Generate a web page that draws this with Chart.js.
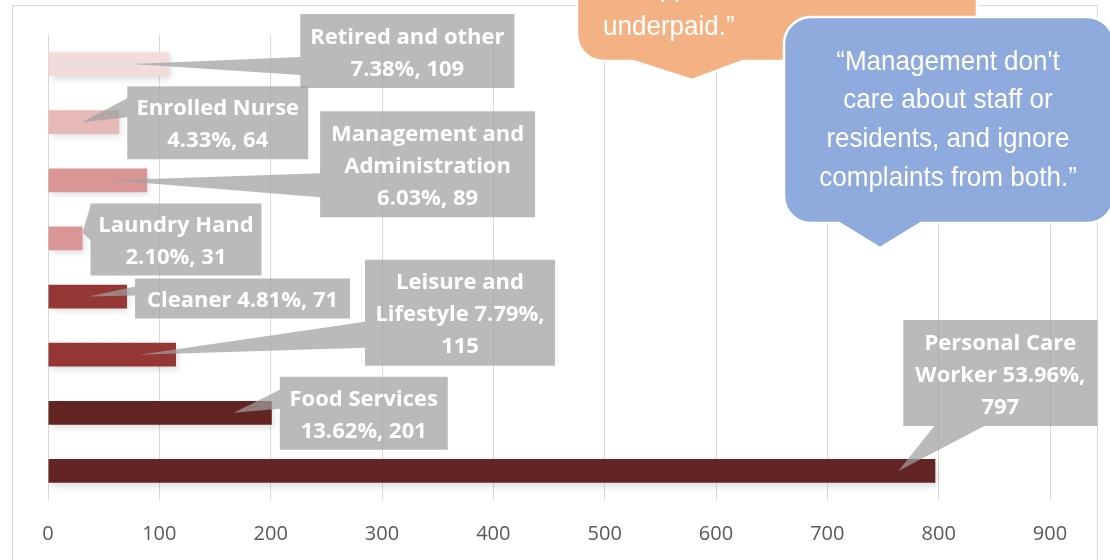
<!DOCTYPE html>
<html>
<head>
<meta charset="utf-8">
<title>Staff roles</title>
<script src="https://cdn.jsdelivr.net/npm/chart.js@4.4.1/dist/chart.umd.min.js"></script>
<style>
    html, body { margin: 0; padding: 0; background: #ffffff; }
    #wrap { width: 1110px; height: 560px; }
</style>
</head>
<body>
<div id="wrap"><canvas id="roleChart" width="1110" height="560"></canvas></div>
<script>
// Data (top bar first)
const roles = ["Retired and other", "Enrolled Nurse", "Management and Administration", "Laundry Hand",
    "Cleaner", "Leisure and Lifestyle", "Food Services", "Personal Care Worker"];
const counts = [109, 64, 89, 31, 71, 115, 201, 797];
const percents = ["7.38", "4.33", "6.03", "2.10", "4.81", "7.79", "13.62", "53.96"];
const barColors = ["#f2dcdb", "#e6b9b8", "#d99694", "#d99694", "#953735", "#953735", "#632523", "#632523"];
const xTicks = [0, 100, 200, 300, 400, 500, 600, 700, 800, 900];

// words per line in each data label
const labelWrap = [[3, 2], [2, 2], [2, 1, 2], [2, 2], [3], [2, 2, 1], [2, 2], [2, 2, 1]];

// callout layout, relative to the end of each bar
const calloutLayout = [
    { dx: 131, dy: -50, w: 214, h: 74, side: "left", b1: 43, b2: 61, tdx: -37, tdy: 0 },
    { dx: 8, dy: -36, w: 181, h: 73, side: "left", b1: 12, b2: 31, tdx: -37, tdy: 0 },
    { dx: 173, dy: -69, w: 215, h: 106, side: "left", b1: 62, b2: 86, tdx: -36, tdy: 0 },
    { dx: 8, dy: -35, w: 171, h: 72, side: "left", b1: 2, b2: 37, tdx: 0, tdy: -6 },
    { dx: 8, dy: -18, w: 215, h: 40, side: "left", b1: 8, b2: 17, tdx: -38, tdy: 0 },
    { dx: 189, dy: -95, w: 190, h: 106, side: "left", b1: 62, b2: 88, tdx: -37, tdy: 0 },
    { dx: 8, dy: -36, w: 168, h: 73, side: "left", b1: 13, b2: 32, tdx: -38, tdy: 0 },
    { dx: -32, dy: -151, w: 194, h: 106, side: "bottom", b1: 31, b2: 81, tdx: -37, tdy: 0 }
];

// quote bubbles
const quotes = [
    { fill: "#f4b183", x: 577, y: -60, w: 400, h: 121, tail: [633, 743, 692, 80],
      align: "left", tx: 603, lines: ["unsupported and", "underpaid.\u201d"], base: -4 },
    { fill: "#8faadc", x: 784, y: 17, w: 330, h: 206, tail: [839, 921, 880, 248],
      align: "center", tx: 948, lines: ["\u201cManagement don't", "care about staff or",
        "residents, and ignore", "complaints from both.\u201d"], base: 69.5 }
];

function labelLines(i) {
    const words = `${roles[i]} ${percents[i]}%, ${counts[i]}`.split(" ");
    const out = [];
    let k = 0;
    labelWrap[i].forEach(n => {
        out.push(words.slice(k, k + n).join(" "));
        k += n;
    });
    return out;
}

function roundRectPath(ctx, x, y, w, h, r, tail) {
    ctx.beginPath();
    ctx.moveTo(x + r, y);
    ctx.lineTo(x + w - r, y);
    ctx.arcTo(x + w, y, x + w, y + r, r);
    ctx.lineTo(x + w, y + h - r);
    ctx.arcTo(x + w, y + h, x + w - r, y + h, r);
    ctx.lineTo(tail[1], y + h);
    ctx.lineTo(tail[2], tail[3]);
    ctx.lineTo(tail[0], y + h);
    ctx.lineTo(x + r, y + h);
    ctx.arcTo(x, y + h, x, y + h - r, r);
    ctx.lineTo(x, y + r);
    ctx.arcTo(x, y, x + r, y, r);
    ctx.closePath();
}

// chart frame behind everything
const framePlugin = {
    id: "frame",
    beforeDraw(chart) {
        const ctx = chart.ctx;
        ctx.save();
        ctx.fillStyle = "#ffffff";
        ctx.fillRect(0, 0, chart.width, chart.height);
        ctx.strokeStyle = "#d9d9d9";
        ctx.lineWidth = 1;
        ctx.strokeRect(12.5, 5.5, 1085, 600);
        ctx.restore();
    }
};

// soft shadow under the bars
const shadowPlugin = {
    id: "barShadow",
    beforeDatasetDraw(chart) {
        const ctx = chart.ctx;
        ctx.save();
        ctx.shadowColor = "rgba(0,0,0,0.14)";
        ctx.shadowBlur = 7;
        ctx.shadowOffsetX = 2;
        ctx.shadowOffsetY = 3;
    },
    afterDatasetDraw(chart) {
        chart.ctx.restore();
    }
};

// gray data callouts
const calloutPlugin = {
    id: "callouts",
    afterDatasetsDraw(chart) {
        const ctx = chart.ctx;
        const bars = chart.getDatasetMeta(0).data;
        ctx.save();
        bars.forEach((bar, i) => {
            const c = calloutLayout[i];
            const x = bar.x + c.dx, y = bar.y + c.dy;
            const tipX = bar.x + c.tdx, tipY = bar.y + c.tdy;
            ctx.beginPath();
            ctx.moveTo(x, y);
            ctx.lineTo(x + c.w, y);
            ctx.lineTo(x + c.w, y + c.h);
            if (c.side === "bottom") {
                ctx.lineTo(x + c.b2, y + c.h);
                ctx.lineTo(tipX, tipY);
                ctx.lineTo(x + c.b1, y + c.h);
                ctx.lineTo(x, y + c.h);
            } else {
                ctx.lineTo(x, y + c.h);
                ctx.lineTo(x, y + c.b2);
                ctx.lineTo(tipX, tipY);
                ctx.lineTo(x, y + c.b1);
            }
            ctx.closePath();
            ctx.fillStyle = "rgba(160,160,160,0.72)";
            ctx.fill();

            const lines = labelLines(i);
            ctx.fillStyle = "#ffffff";
            ctx.font = "bold 22px 'Open Sans'";
            ctx.textAlign = "center";
            ctx.textBaseline = "middle";
            const cy = y + c.h / 2;
            lines.forEach((t, k) => {
                ctx.fillText(t, x + c.w / 2, cy + (k - (lines.length - 1) / 2) * 32 + 2.5);
            });
        });
        ctx.restore();
    }
};

// quote bubbles on top
const quotePlugin = {
    id: "quotes",
    afterDraw(chart) {
        const ctx = chart.ctx;
        quotes.forEach(q => {
            ctx.save();
            roundRectPath(ctx, q.x, q.y, q.w, q.h, 27, q.tail);
            ctx.fillStyle = q.fill;
            ctx.fill();
            ctx.strokeStyle = "#ffffff";
            ctx.lineWidth = 2.5;
            ctx.stroke();
            ctx.fillStyle = "#ffffff";
            ctx.font = "28px 'Liberation Sans', Arial, sans-serif";
            ctx.textBaseline = "alphabetic";
            ctx.textAlign = q.align;
            q.lines.forEach((t, k) => {
                ctx.save();
                ctx.translate(q.tx, q.base + k * 38.7);
                ctx.scale(0.93, 1);
                ctx.fillText(t, 0, 0);
                ctx.restore();
            });
            ctx.restore();
        });
    }
};

function init() {
    const ctx = document.getElementById("roleChart").getContext("2d");
    new Chart(ctx, {
        type: "bar",
        data: {
            labels: roles,
            datasets: [{
                data: counts,
                backgroundColor: barColors,
                borderWidth: 0,
                barPercentage: 0.41,
                categoryPercentage: 1
            }]
        },
        options: {
            indexAxis: "y",
            responsive: false,
            devicePixelRatio: 1,
            animation: false,
            layout: { padding: { left: 48, right: 60, top: 35, bottom: 0 } },
            plugins: { legend: { display: false }, tooltip: { enabled: false } },
            scales: {
                x: {
                    min: 0,
                    max: 900,
                    afterBuildTicks: scale => { scale.ticks = xTicks.map(v => ({ value: v })); },
                    afterFit: scale => { scale.height = 60; },
                    grid: { color: "#d9d9d9", lineWidth: 1, drawTicks: false },
                    border: { display: false },
                    ticks: {
                        color: "#595959",
                        font: { family: "'Open Sans'", size: 20 },
                        padding: 22
                    }
                },
                y: { display: false }
            }
        },
        plugins: [framePlugin, shadowPlugin, calloutPlugin, quotePlugin]
    });
}

document.addEventListener("DOMContentLoaded", init);
</script>
</body>
</html>
